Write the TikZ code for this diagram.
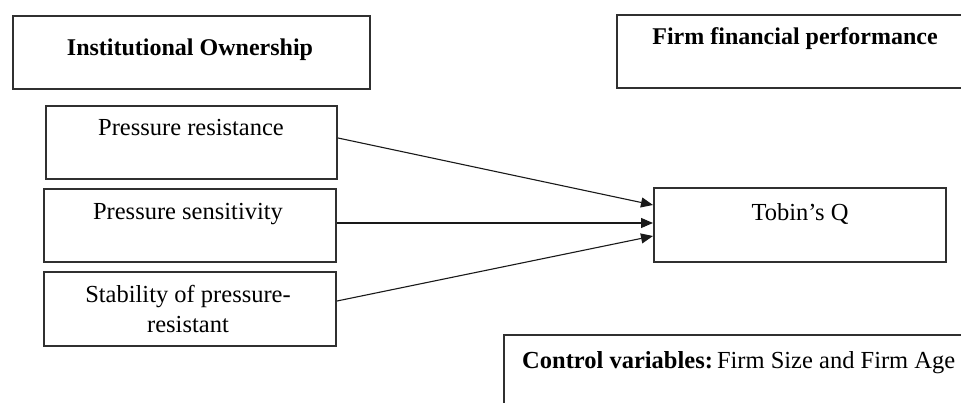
\documentclass[tikz,border=0pt]{standalone}
\usepackage{fontspec}
\setmainfont{Liberation Serif}
\usetikzlibrary{arrows.meta}
\definecolor{boxline}{HTML}{303030}
\tikzset{
  box/.style={draw=boxline, line width=2pt, inner sep=0pt, anchor=north west},
  lbl/.style={font=\fontsize{24.5}{29}\selectfont, inner sep=0pt, anchor=base},
  hd/.style={font=\fontsize{24}{29}\selectfont\bfseries, inner sep=0pt, anchor=base},
  link/.style={draw=black!90, line width=1.1pt, -{Triangle[length=12pt,width=10pt]}}
}
\begin{document}
\begin{tikzpicture}[x=1pt,y=-1pt]
\useasboundingbox (0,0) rectangle (961,403);
\fill[white] (0,0) rectangle (961,403);
\begin{scope}
\clip (0,0) rectangle (961,403);
% heading boxes
\node[box, minimum width=357pt, minimum height=73pt] (io) at (12,15) {};
\node[hd] (iot) at (190,56) {Institutional Ownership};
\node[box, minimum width=360pt, minimum height=73pt] (ffp) at (616,14) {};
\node[hd] (ffpt) at (795,45) {Firm financial performance};
% independent variables
\node[box, minimum width=291pt, minimum height=73pt] (pr) at (45,105) {};
\node[lbl] (prt) at (191,136) {Pressure resistance};
\node[box, minimum width=292pt, minimum height=73pt] (ps) at (43,188) {};
\node[lbl] (pst) at (188,220) {Pressure sensitivity};
\node[box, minimum width=292pt, minimum height=74pt] (sp) at (43,271) {};
\node[lbl] (spt1) at (188,302) {Stability of pressure-};
\node[lbl] (spt2) at (188,333) {resistant};
% dependent variable
\node[box, minimum width=292pt, minimum height=74pt] (tq) at (653,187) {};
\node[lbl] (tqt) at (800,221) {Tobin’s Q};
% control variables
\node[box, minimum width=470pt, minimum height=90pt] (cv) at (503,334) {};
\node[lbl, anchor=base west] (cvt) at (522,368) {\textbf{Control variables:}\,Firm Size and Firm Age};
\end{scope}
% connectors
\coordinate (a1) at (653,205);
\coordinate (a2) at (653,223);
\coordinate (a3) at (653,236);
\draw[link] (pr.east |- 0,138) -- (a1);
\draw[link] (ps.east |- 0,223) -- (a2);
\draw[link] (sp.east |- 0,301) -- (a3);
\end{tikzpicture}
\end{document}
